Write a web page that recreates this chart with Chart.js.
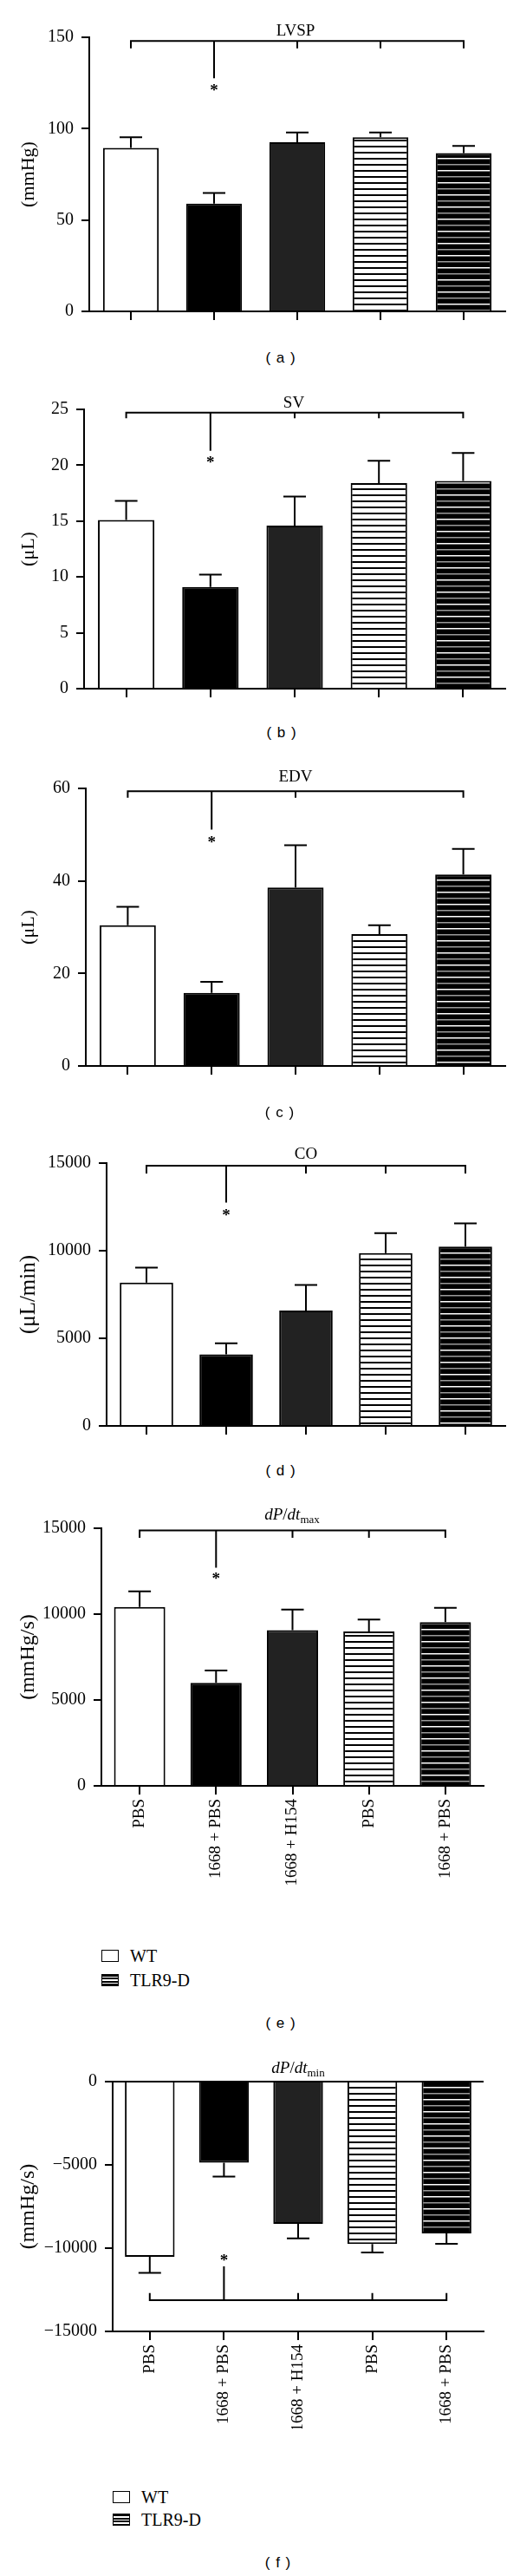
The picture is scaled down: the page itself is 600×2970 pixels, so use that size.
<!DOCTYPE html>
<html><head><meta charset="utf-8">
<script src="https://cdn.jsdelivr.net/npm/chart.js@4.4.1/dist/chart.umd.min.js"></script>
<style>
html,body{margin:0;padding:0;background:#fff;}
body{width:600px;height:2970px;position:relative;overflow:hidden;font-family:"Liberation Serif","Times New Roman",serif;color:#000;}
canvas.cv{position:absolute;left:0;}
.t{position:absolute;transform:translate(-50%,-50%);white-space:nowrap;font-size:19px;line-height:1;z-index:2;}
.t sub{font-size:13px;vertical-align:-4px;line-height:0;}
.lab{position:absolute;transform:translate(-50%,-50%);white-space:nowrap;font-family:"Liberation Sans",Arial,sans-serif;font-size:17px;line-height:1;letter-spacing:1px;}
.leg{position:absolute;display:flex;align-items:center;font-size:20px;line-height:1;white-space:nowrap;}
.box{width:20px;height:14px;box-sizing:border-box;border:1.5px solid #000;margin-right:13px;background:#fff;}
.box.st{background:repeating-linear-gradient(to bottom,#000 0px,#000 2px,#fff 2px,#fff 3.5px);}
</style></head><body>

<canvas class="cv" id="cA" width="600" height="380" style="top:0px"></canvas>
<canvas class="cv" id="cB" width="600" height="385" style="top:430px"></canvas>
<canvas class="cv" id="cC" width="600" height="390" style="top:860px"></canvas>
<canvas class="cv" id="cD" width="600" height="375" style="top:1290px"></canvas>
<canvas class="cv" id="cE" width="600" height="490" style="top:1710px"></canvas>
<canvas class="cv" id="cF" width="600" height="450" style="top:2350px"></canvas>

<div class="t" style="left:341px;top:34px">LVSP</div>
<div class="t" style="left:339px;top:463px">SV</div>
<div class="t" style="left:341px;top:894px">EDV</div>
<div class="t" style="left:353px;top:1329px">CO</div>
<div class="t" style="left:337px;top:1745px"><i>dP</i>/<i>dt</i><sub>max</sub></div>
<div class="t" style="left:344px;top:2383px"><i>dP</i>/<i>dt</i><sub>min</sub></div>

<div class="lab" style="left:324px;top:412px">( a )</div>
<div class="lab" style="left:325px;top:844px">( b )</div>
<div class="lab" style="left:323px;top:1282px">( c )</div>
<div class="lab" style="left:324px;top:1695px">( d )</div>
<div class="lab" style="left:324px;top:2332px">( e )</div>
<div class="lab" style="left:321px;top:2954px">( f )</div>

<div class="leg" style="left:117px;top:2245px"><span class="box"></span>WT</div>
<div class="leg" style="left:117px;top:2273px"><span class="box st"></span>TLR9-D</div>
<div class="leg" style="left:130px;top:2869px"><span class="box"></span>WT</div>
<div class="leg" style="left:130px;top:2895px"><span class="box st"></span>TLR9-D</div>

<script>
// ---- data ----
const categories = ['PBS', '1668 + PBS', '1668 + H154', 'PBS', '1668 + PBS'];
const groups = ['WT', 'WT', 'WT', 'TLR9-D', 'TLR9-D'];

const lvspMean = [89.5, 59.0, 92.6, 95.3, 86.6];
const lvspSem  = [5.8, 5.8, 5.3, 2.6, 4.0];
const lvspTicks = [0, 50, 100, 150];

const svMean = [15.1, 9.1, 14.6, 18.4, 18.6];
const svSem  = [1.7, 1.1, 2.6, 2.0, 2.5];
const svTicks = [0, 5, 10, 15, 20, 25];

const edvMean = [30.4, 15.8, 38.6, 28.5, 41.4];
const edvSem  = [4.0, 2.4, 9.1, 1.9, 5.5];
const edvTicks = [0, 20, 40, 60];

const coMean = [8180, 4080, 6580, 9870, 10240];
const coSem  = [860, 630, 1470, 1130, 1320];
const coTicks = [0, 5000, 10000, 15000];

const dpMaxMean = [10420, 6000, 9070, 8990, 9530];
const dpMaxSem  = [900, 720, 1200, 690, 840];
const dpMaxTicks = [0, 5000, 10000, 15000];

const dpMinMean = [-10520, -4870, -8540, -9750, -9110];
const dpMinSem  = [960, 830, 870, 510, 630];
const dpMinTicks = [-15000, -10000, -5000, 0];

// significance brackets: [bracket level, short tick end, significant line end, asterisk level]
const lvspBracket  = [148, 144, 127.6, 122.5];
const svBracket    = [24.7, 24.2, 21.3, 20.5];
const edvBracket   = [59.4, 58.0, 51.1, 49.0];
const coBracket    = [14850, 14410, 12750, 12200];
const dpMaxBracket = [14880, 14440, 12700, 12200];
const dpMinBracket = [-13125, -12700, -11100, -10560];
const bracketCats    = [0, 2, 3, 4];
const edvBracketCats = [0, 2, 4];
const sigCat = 1;

// ---- styling ----
const FONT = 'Liberation Serif';
function stripePattern(bg, line, alt, period, lw) {
  const c = document.createElement('canvas');
  c.width = 4; c.height = period * 2;
  const x = c.getContext('2d');
  x.fillStyle = bg; x.fillRect(0, 0, 4, period * 2);
  x.fillStyle = line; x.fillRect(0, 0, 4, lw);
  x.fillStyle = alt; x.fillRect(0, period, 4, lw);
  return x.createPattern(c, 'repeat');
}
const fills = ['#ffffff', '#000000', '#222222',
  stripePattern('#ffffff', '#000000', '#000000', 7, 2),
  stripePattern('#000000', '#ffffff', '#9a9a9a', 7, 1.5)];

function fmt(v) { return v < 0 ? '\u2212' + Math.abs(v) : String(v); }

function makePlugins(mean, sem, br, cats) {
  return [{
    id: 'errs',
    afterDatasetsDraw(chart) {
      const ctx = chart.ctx, y = chart.scales.y, x = chart.scales.x;
      const meta = chart.getDatasetMeta(0);
      ctx.save();
      ctx.strokeStyle = '#000'; ctx.lineWidth = 2; ctx.lineCap = 'butt';
      meta.data.forEach((el, i) => {
        const m = mean[i];
        const end = m >= 0 ? m + sem[i] : m - sem[i];
        const y0 = y.getPixelForValue(m), y1 = y.getPixelForValue(end);
        ctx.beginPath();
        ctx.moveTo(el.x, y0); ctx.lineTo(el.x, y1);
        ctx.moveTo(el.x - 13, y1); ctx.lineTo(el.x + 13, y1);
        ctx.stroke();
      });
      // bracket
      const xp = i => x.getPixelForValue(i);
      const yb = y.getPixelForValue(br[0]), yt = y.getPixelForValue(br[1]);
      ctx.beginPath();
      ctx.moveTo(xp(cats[0]) - 1, yb); ctx.lineTo(xp(cats[cats.length - 1]) + 1, yb);
      cats.forEach(c => { ctx.moveTo(xp(c), yb); ctx.lineTo(xp(c), yt); });
      ctx.moveTo(xp(sigCat), yb); ctx.lineTo(xp(sigCat), y.getPixelForValue(br[2]));
      ctx.stroke();
      ctx.fillStyle = '#000';
      ctx.font = 'bold 19px "' + FONT + '"';
      ctx.textAlign = 'center'; ctx.textBaseline = 'alphabetic';
      const mt = ctx.measureText('*');
      const yc = y.getPixelForValue(br[3]);
      ctx.fillText('*', xp(sigCat), yc + (mt.actualBoundingBoxAscent - mt.actualBoundingBoxDescent) / 2);
      ctx.restore();
    }
  }];
}

function makeChart(id, o) {
  const t = o.ticks;
  const ts = o.yTitleSize;
  return new Chart(document.getElementById(id), {
    type: 'bar',
    data: {
      labels: categories,
      datasets: [{
        label: o.name,
        data: o.mean,
        backgroundColor: fills,
        borderColor: '#000',
        borderWidth: 2,
        borderSkipped: 'start',
        barPercentage: 0.67,
        categoryPercentage: 1
      }]
    },
    options: {
      responsive: false, animation: false, devicePixelRatio: 1,
      layout: { padding: { top: o.padTop, right: o.padRight, left: 0, bottom: 0 } },
      plugins: { legend: { display: false }, tooltip: { enabled: false }, title: { display: false } },
      scales: {
        x: {
          grid: { offset: false, drawOnChartArea: false, tickLength: 10, color: '#000', tickColor: '#000', lineWidth: 2 },
          border: { color: '#000', width: 2 },
          ticks: { display: o.showLabels, minRotation: 90, maxRotation: 90, autoSkip: false,
                   font: { family: FONT, size: 19 }, color: '#000', padding: 5 },
          afterFit: s => { s.height = o.xH; }
        },
        y: {
          min: t[0], max: t[t.length - 1],
          afterBuildTicks: s => { s.ticks = t.map(v => ({ value: v })); },
          grid: {
            drawOnChartArea: !!o.zeroLine,
            color: c => (o.zeroLine && c.tick && c.tick.value === 0) ? '#000' : 'rgba(0,0,0,0)',
            tickColor: '#000', tickLength: 9, lineWidth: 2
          },
          border: { color: '#000', width: 2 },
          ticks: { font: { family: FONT, size: 20 }, color: '#000', padding: 9, callback: v => fmt(v) },
          title: { display: true, text: o.yTitle, font: { family: FONT, size: ts }, color: '#000',
                   padding: { top: 33 - 0.6 * ts, bottom: 0 } },
          afterFit: s => { s.width = o.axisX; }
        }
      }
    },
    plugins: makePlugins(o.mean, o.sem, o.bracket, o.cats)
  });
}

makeChart('cA', { name: 'LVSP', mean: lvspMean, sem: lvspSem, ticks: lvspTicks, bracket: lvspBracket, cats: bracketCats,
  yTitle: '(mmHg)', yTitleSize: 22, padTop: 43, padRight: 17, xH: 16, axisX: 103, showLabels: false });
makeChart('cB', { name: 'SV', mean: svMean, sem: svSem, ticks: svTicks, bracket: svBracket, cats: bracketCats,
  yTitle: '(\u03BCL)', yTitleSize: 22, padTop: 42, padRight: 17, xH: 17, axisX: 97, showLabels: false });
makeChart('cC', { name: 'EDV', mean: edvMean, sem: edvSem, ticks: edvTicks, bracket: edvBracket, cats: edvBracketCats,
  yTitle: '(\u03BCL)', yTitleSize: 22, padTop: 49, padRight: 17, xH: 17, axisX: 99, showLabels: false });
makeChart('cD', { name: 'CO', mean: coMean, sem: coSem, ticks: coTicks, bracket: coBracket, cats: bracketCats,
  yTitle: '(\u03BCL/min)', yTitleSize: 25, padTop: 51, padRight: 17, xH: 18, axisX: 123, showLabels: false });
makeChart('cE', { name: 'dP/dt max', mean: dpMaxMean, sem: dpMaxSem, ticks: dpMaxTicks, bracket: dpMaxBracket, cats: bracketCats,
  yTitle: '(mmHg/s)', yTitleSize: 24, padTop: 52, padRight: 42, xH: 141, axisX: 117, showLabels: true });
makeChart('cF', { name: 'dP/dt min', mean: dpMinMean, sem: dpMinSem, ticks: dpMinTicks, bracket: dpMinBracket, cats: bracketCats,
  yTitle: '(mmHg/s)', yTitleSize: 24, padTop: 50, padRight: 42, xH: 112, axisX: 130, showLabels: true, zeroLine: true });
</script>
</body></html>
